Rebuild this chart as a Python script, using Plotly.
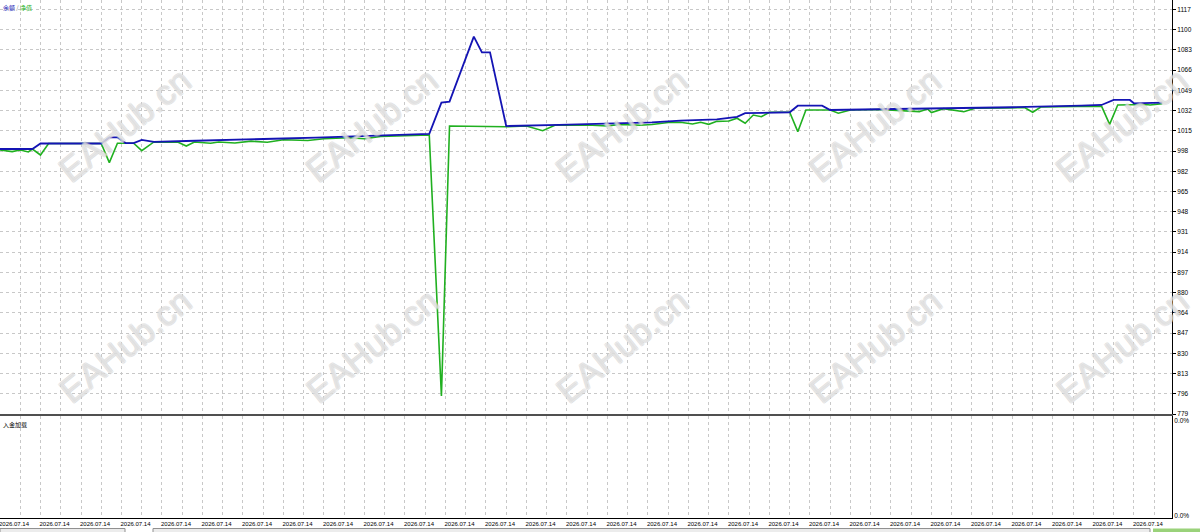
import plotly.graph_objects as go

# ---------------- data ----------------
balance_idx = [0, 8, 10, 25, 27, 29, 31, 33, 35, 38, 46, 54, 62, 70, 78, 86, 94, 100, 106,
               109, 111, 117, 119, 121, 125, 138, 150, 161, 168, 177, 182, 184, 195, 197,
               203, 205, 217, 234, 250, 267, 272, 275, 279, 280, 287]
balance = [1000.4, 1000.4, 1005.0, 1005.0, 1010.2, 1010.2, 1005.4, 1005.4, 1008.0, 1006.3,
           1007.1, 1008.0, 1008.6, 1009.2, 1009.9, 1010.8, 1011.6, 1012.3, 1013.0,
           1039.1, 1040.0, 1094.3, 1081.2, 1081.2, 1019.6, 1020.5, 1021.3, 1022.6, 1024.1,
           1025.1, 1027.2, 1030.3, 1031.1, 1036.6, 1036.6, 1033.0, 1033.6, 1034.4, 1035.3,
           1036.6, 1037.2, 1041.4, 1041.4, 1038.6, 1039.1]

equity_idx = [0, 3, 5, 7, 8, 10, 12, 25, 27, 29, 33, 35, 38, 44, 46, 48, 52, 54, 58, 62, 66,
              70, 76, 80, 86, 90, 94, 100, 104, 106, 109, 111, 125, 130, 134, 137, 145, 150,
              153, 158, 161, 165, 168, 171, 173, 175, 177, 180, 182, 184, 186, 188, 190, 195,
              197, 199, 205, 207, 210, 217, 227, 229, 230, 233, 238, 241, 248, 253, 255, 257,
              266, 272, 274, 276, 283, 284, 287]
equity = [999.6, 998.2, 999.6, 997.9, 1000.4, 995.4, 1005.0, 1005.0, 989.0, 1005.2, 1005.2,
          999.0, 1006.3, 1006.0, 1002.9, 1006.3, 1005.2, 1006.3, 1005.4, 1007.0, 1006.0,
          1008.2, 1007.5, 1009.0, 1009.8, 1009.0, 1010.8, 1011.4, 1011.8, 1012.1, 794.0,
          1019.6, 1019.0, 1019.6, 1015.7, 1020.2, 1020.5, 1019.6, 1021.0, 1020.2, 1020.9,
          1022.5, 1022.7, 1021.3, 1022.7, 1021.0, 1023.5, 1023.8, 1026.1, 1021.9, 1028.8,
          1027.4, 1031.1, 1031.1, 1014.9, 1033.0, 1033.0, 1030.3, 1033.0, 1033.4, 1031.6,
          1033.9, 1030.8, 1034.1, 1031.6, 1034.6, 1034.8, 1035.1, 1031.1, 1035.5, 1036.0,
          1036.2, 1021.0, 1037.2, 1037.6, 1037.2, 1038.3]

y_tick_vals = [779 + 16.9 * k for k in range(21)]
y_tick_text = ["779", "796", "813", "830", "847", "864", "880", "897", "914", "931", "948",
               "965", "982", "998", "1015", "1032", "1049", "1066", "1083", "1100", "1117"]

x_tick_vals = list(range(0, 290, 10))
x_tick_text = ["2026.07.14"] * len(x_tick_vals)

load_tick_vals = [0.02, 0.95]
load_tick_text = ["0.0%", "0.0%"]

legend_balance = "余额"
legend_equity = "净值"
panel2_title = "入金加载"
watermark = "EAHub.cn"

# ---------------- style ----------------
BLUE = "#1414b4"
GREEN = "#20b020"
GRID = "#c8c8c8"
FONT = "Liberation Sans"

fig = go.Figure()
fig.add_trace(go.Scatter(x=equity_idx, y=equity, mode="lines",
                         line=dict(color=GREEN, width=1.6), xaxis="x", yaxis="y",
                         hoverinfo="skip"))
fig.add_trace(go.Scatter(x=balance_idx, y=balance, mode="lines",
                         line=dict(color=BLUE, width=1.8), xaxis="x", yaxis="y",
                         hoverinfo="skip"))
# empty lower panel
fig.add_trace(go.Scatter(x=[None], y=[None], mode="lines", xaxis="x2", yaxis="y2",
                         hoverinfo="skip"))

xrange = [0, 289.4]
main_dom = [(518 - 414) / 518, 1]
low_dom = [0, 102 / 518]

fig.update_layout(
    width=1200, height=532,
    margin=dict(l=0, r=28, t=0, b=14),
    paper_bgcolor="white", plot_bgcolor="white",
    showlegend=False,
    font=dict(family=FONT, size=6, color="#000000"),
    xaxis=dict(domain=[0, 1], range=xrange, anchor="y",
               tickvals=x_tick_vals, showticklabels=False, ticks="",
               showgrid=True, gridcolor=GRID, griddash="3px,3px", gridwidth=1,
               minor=dict(tick0=0, dtick=5, showgrid=True, gridcolor=GRID,
                          griddash="3px,3px", gridwidth=1),
               showline=True, linecolor="#505050", linewidth=2, zeroline=False),
    yaxis=dict(domain=main_dom, range=[779, 1124.9], side="right", anchor="x",
               tickvals=y_tick_vals, ticktext=y_tick_text,
               tickfont=dict(size=6.5, family=FONT, color="#000"),
               ticks="outside", ticklen=3, tickcolor="#000",
               showgrid=True, gridcolor=GRID, griddash="3px,3px", gridwidth=1,
               showline=True, linecolor="#000", linewidth=1, zeroline=False),
    xaxis2=dict(domain=[0, 1], range=xrange, anchor="y2", matches="x",
                tickvals=x_tick_vals, ticktext=x_tick_text, ticklabelshift=14,
                ticklabeloverflow="allow",
                tickfont=dict(size=6, family=FONT, color="#000"),
                ticks="", ticklabelstandoff=0,
                showgrid=True, gridcolor=GRID, griddash="3px,3px", gridwidth=1,
                minor=dict(tick0=0, dtick=5, showgrid=True, gridcolor=GRID,
                           griddash="3px,3px", gridwidth=1),
                showline=True, linecolor="#000", linewidth=1, zeroline=False),
    yaxis2=dict(domain=low_dom, range=[0, 1], side="right", anchor="x2",
                tickvals=load_tick_vals, ticktext=load_tick_text,
                tickfont=dict(size=6.5, family=FONT, color="#000"),
                ticks="", showgrid=False, showline=True, linecolor="#000",
                linewidth=1, zeroline=False),
)

annotations = [
    dict(text=f"<span style='color:{BLUE}'>{legend_balance}</span>"
              f"<span style='color:#808080'> / </span>"
              f"<span style='color:{GREEN}'>{legend_equity}</span>",
         xref="paper", yref="paper", x=0.001, y=0.999, xanchor="left", yanchor="top",
         showarrow=False, font=dict(size=6, family="Noto Sans CJK SC")),
    dict(text=panel2_title, xref="paper", yref="paper", x=0.001, y=low_dom[1] - 0.003,
         xanchor="left", yanchor="top", showarrow=False,
         font=dict(size=6, family="Noto Sans CJK SC", color="#000")),
]

outline = ("-0.7px -0.7px 0 #c8c8c8, 0.7px -0.7px 0 #c8c8c8, "
           "-0.7px 0.7px 0 #c8c8c8, 0.7px 0.7px 0 #c8c8c8")
wm_cols = [125, 372, 622, 875, 1122]
wm_rows = [125, 345]
for py in wm_rows:
    for px in wm_cols:
        annotations.append(dict(
            text=watermark, xref="paper", yref="paper",
            x=px / 1172, y=1 - py / 518, xanchor="center", yanchor="middle",
            showarrow=False, textangle=-39,
            font=dict(size=35, family="Liberation Sans", color="rgba(255,255,255,0.35)",
                      shadow=outline)))

fig.update_layout(annotations=annotations)

# tester window tab strip below the chart
strip_y0, strip_y1 = -20 / 518, -10.5 / 518
fig.update_layout(shapes=[
    dict(type="rect", xref="paper", yref="paper", x0=0, x1=125 / 1172, layer="above",
         y0=strip_y0, y1=strip_y1, line=dict(color="#909090", width=1),
         fillcolor="#ececec"),
    dict(type="rect", xref="paper", yref="paper", x0=153 / 1172, x1=1150 / 1172,
         layer="above",
         y0=strip_y0, y1=strip_y1, line=dict(color="#909090", width=1),
         fillcolor="#ececec"),
    dict(type="rect", xref="paper", yref="paper", x0=1153 / 1172, x1=1200 / 1172,
         layer="above",
         y0=strip_y0, y1=strip_y1, line=dict(width=0),
         fillcolor="#9ad27a"),
])

fig.write_html("out.html",
               config={"displayModeBar": False},
               post_script="document.body.style.margin='0';"
                           "document.body.style.overflow='hidden';")
